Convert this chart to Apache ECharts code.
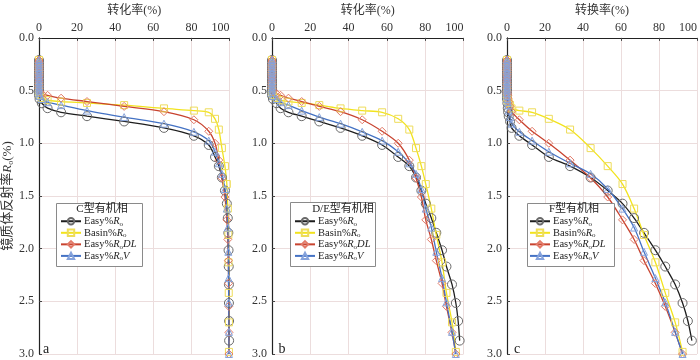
<!DOCTYPE html>
<html>
<head>
<meta charset="utf-8">
<script src="https://cdn.jsdelivr.net/npm/echarts@6/dist/echarts.min.js"></script>
<style>
html, body { margin: 0; padding: 0; background: #fff; }
#chart { width: 700px; height: 360px; }
</style>
</head>
<body>
<div id="chart"></div>
<script>
// conversion (%) at each time step, per organic facies (first 14 steps still unconverted)
const convC = [0,0,0,0,0,0,0,0,0,0,0,0,0,0,
	0.3, 1.5, 4.5, 11.6, 25.2, 44.7, 65.6, 81.3, 89.1, 92.4, 94.4, 96.0, 97.6, 98.6, 99.1, 99.4, 99.5, 99.6, 99.7, 99.7, 99.8, 99.8];
const convDE = [0,0,0,0,0,0,0,0,0,0,0,0,0,0,
	0.5, 2.4, 4.5, 8.6, 15.5, 24.7, 35.8, 47.1, 57.5, 65.9, 71.7, 75.2, 78.0, 80.3, 83.2, 85.8, 88.8, 91.1, 94.0, 96.0, 97.2, 98.0];
const convF = [0,0,0,0,0,0,0,0,0,0,0,0,0,0,
	0, 0.2, 0.4, 0.6, 0.9, 1.6, 2.4, 6.5, 13.2, 22.0, 33.2, 44.0, 53.0, 60.8, 66.9, 72.1, 78.1, 83.3, 88.5, 92.4, 95.2, 97.3];

// vitrinite reflectance Ro (%) at the same time steps, per model
const roEasy = [0.21,0.235,0.26,0.285,0.31,0.335,0.36,0.385,0.41,0.435,0.46,0.485,0.51,0.545,
	0.58, 0.62, 0.667, 0.706, 0.743, 0.793, 0.854, 0.929, 1.016, 1.13, 1.217, 1.325, 1.449, 1.573, 1.71, 1.85, 2.015, 2.17, 2.34, 2.516, 2.687, 2.873];
const roBasin = [0.21,0.235,0.26,0.285,0.31,0.33,0.35,0.37,0.39,0.41,0.43,0.46,0.48,0.51,
	0.54, 0.57, 0.59, 0.605, 0.617, 0.638, 0.669, 0.69, 0.706, 0.768, 0.87, 1.046, 1.217, 1.387, 1.62, 1.87, 2.13, 2.42, 2.70, 2.98];
const roDL = [0.21,0.23,0.25,0.27,0.29,0.31,0.33,0.35,0.37,0.39,0.41,0.43,0.455,0.48,
	0.51, 0.53, 0.545, 0.572, 0.604, 0.65, 0.70, 0.777, 0.886, 1.0, 1.16, 1.33, 1.51, 1.727, 1.913, 2.114, 2.33, 2.548, 2.795, 3.0];
const roV = [0.21,0.235,0.26,0.285,0.31,0.335,0.36,0.385,0.41,0.435,0.46,0.48,0.50,0.525,
	0.55, 0.58, 0.61, 0.638, 0.69, 0.752, 0.814, 0.891, 0.975, 1.08, 1.19, 1.29, 1.434, 1.62, 1.80, 2.03, 2.28, 2.51, 2.79, 3.0];

const yTicks = ['0.0', '0.5', '1.0', '1.5', '2.0', '2.5', '3.0'];
const panelTitles = ['C型有机相', 'D/E型有机相', 'F型有机相'];
const panelLetters = ['a', 'b', 'c'];
const axisTitles = ['转化率(%)', '转化率(%)', '转换率(%)'];

const serif = '"Liberation Serif", "DejaVu Serif", "Noto Sans CJK SC", serif';
const convs = [convC, convDE, convF];
const models = [
	{ name: 'Easy%Ro', ro: roEasy, line: '#1e1e1e', mark: '#6a6a6a', symbol: 'circle', size: 9, label: '{n|Easy%}{i|R}{s|o}' },
	{ name: 'Basin%Ro', ro: roBasin, line: '#f2e31c', mark: '#eedc5a', symbol: 'rect', size: 7, label: '{n|Basin%}{i|R}{s|o}' },
	{ name: 'Easy%RoDL', ro: roDL, line: '#c8432f', mark: '#e27a68', symbol: 'diamond', size: 8, label: '{n|Easy%}{i|R}{s|o}{i|DL}' },
	{ name: 'Easy%RoV', ro: roV, line: '#4472c4', mark: '#86a3dc', symbol: 'triangle', size: 7, label: '{n|Easy%}{i|R}{s|o}{i|V}' }
];

const gridLeft = [38, 272, 507];
const gridW = 191.5;
const richText = {
	n: { fontFamily: serif, fontSize: 10.5, color: '#222', lineHeight: 12 },
	i: { fontFamily: serif, fontSize: 10.5, color: '#222', fontStyle: 'italic', lineHeight: 12 },
	s: { fontFamily: serif, fontSize: 7, color: '#222', lineHeight: 8, verticalAlign: 'bottom' }
};

const grid = [], xAxis = [], yAxis = [], series = [], legend = [], graphic = [];
gridLeft.forEach((left, p) => {
	grid.push({ left: left, top: 32, width: gridW, height: 323 });
	xAxis.push({
		gridIndex: p, type: 'value', position: 'top', min: 0, max: 100, interval: 20,
		name: axisTitles[p], nameLocation: 'middle', nameGap: 19,
		nameTextStyle: { fontFamily: serif, fontSize: 12, color: '#333' },
		axisLine: { show: true, onZero: false, lineStyle: { color: '#222', width: 1.2 } },
		axisTick: { show: true, inside: true, length: 3, lineStyle: { color: '#444' } },
		axisLabel: { margin: 4, fontFamily: serif, fontSize: 12, color: '#333', alignMaxLabel: 'right' },
		splitLine: { show: true, lineStyle: { color: '#ecdddd', width: 1 } }
	});
	yAxis.push({
		gridIndex: p, type: 'value', inverse: true, min: 0, max: 3, interval: 0.5,
		name: p === 0 ? '镜质体反射率{i|R}{s|o}(%)' : '', nameLocation: 'middle', nameGap: 24, nameRotate: 90,
		nameTextStyle: {
			fontFamily: serif, fontSize: 13, color: '#333',
			rich: {
				i: { fontFamily: serif, fontSize: 13, fontStyle: 'italic', color: '#333', lineHeight: 15 },
				s: { fontFamily: serif, fontSize: 8, color: '#333', lineHeight: 9, verticalAlign: 'bottom' }
			}
		},
		axisLine: { show: true, onZero: false, lineStyle: { color: '#222', width: 1.2 } },
		axisTick: { show: true, inside: true, length: 3, lineStyle: { color: '#444' } },
		axisLabel: { margin: 5, fontFamily: serif, fontSize: 12, color: '#333',
			formatter: (v) => yTicks[Math.round(v * 2)] },
		splitLine: { show: true, lineStyle: { color: '#ecdddd', width: 1 } }
	});
	models.forEach((m) => {
		series.push({
			type: 'line', name: m.name, xAxisIndex: p, yAxisIndex: p,
			data: m.ro.map((r, i) => [convs[p][i], r]),
			smooth: 0.3,
			symbol: m.symbol, symbolSize: m.size,
			lineStyle: { color: m.line, width: 1.3 },
			itemStyle: { color: 'rgba(255,255,255,0)', borderColor: m.mark, borderWidth: 1 },
			emphasis: { disabled: true },
			z: 2
		});
	});
	legend.push({
		orient: 'vertical', left: left + 22, top: 216, padding: 0, itemGap: 0.3,
		itemWidth: 20, itemHeight: 8, z: 10,
		data: models.map((m) => m.name),
		formatter: (name) => models.find((m) => m.name === name).label,
		textStyle: { rich: richText, padding: [0, 0, 0, -2] }
	});
});

const boxes = [[56, 203, 86, 63], [290, 202, 85, 64], [527, 203, 87, 63]];
const titleX = [102, 343, 574];
const letterX = [46, 282, 517];
boxes.forEach((b, p) => {
	graphic.push({ type: 'rect', shape: { x: b[0] + 0.5, y: b[1] + 0.5, width: b[2], height: b[3] },
		style: { fill: '#fff', stroke: '#8a8a8a', lineWidth: 1 }, z: 3 });
	graphic.push({ type: 'text', x: titleX[p], y: 209.5,
		style: { text: panelTitles[p], font: '11px ' + serif, fill: '#222', align: 'center', verticalAlign: 'middle' }, z: 6 });
	graphic.push({ type: 'text', x: letterX[p], y: 349,
		style: { text: panelLetters[p], font: '14px ' + serif, fill: '#222', align: 'center', verticalAlign: 'middle' }, z: 6 });
});

const chart = echarts.init(document.getElementById('chart'), null, { renderer: 'canvas' });
chart.setOption({
	animation: false,
	backgroundColor: '#fff',
	grid, xAxis, yAxis, series, legend, graphic
});
</script>
</body>
</html>
